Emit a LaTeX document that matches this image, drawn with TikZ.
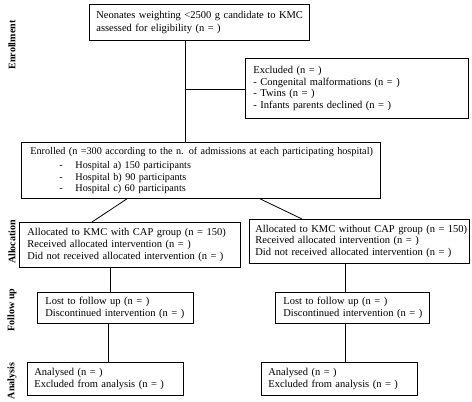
\documentclass[tikz,border=0pt]{standalone}
\usepackage{fontspec}
\setmainfont{Liberation Serif}
\newcommand\oneline[1]{\mbox{#1}}
\begin{document}
\begin{tikzpicture}[x=1pt,y=-1pt,
  box/.style={draw,line width=0.8pt,inner xsep=7pt,inner ysep=0pt,anchor=north west,align=left,
    font=\fontsize{10.5}{11.6}\selectfont},
  side/.style={inner sep=0pt,rotate=90,font=\fontsize{10}{11}\selectfont\bfseries},
  conn/.style={line width=0.8pt}]
\useasboundingbox (0,0) rectangle (472,402);
% boxes with text
\node[box,text width=206pt,minimum height=36pt,font=\fontsize{10.5}{13}\selectfont] (b1) at (89,4)
  {\oneline{Neonates weighting <2500 g candidate to KMC}\\\oneline{assessed for eligibility (n = )}};
\node[box,inner xsep=8pt,text width=207pt,minimum height=60pt] (ex) at (245,58)
  {\oneline{Excluded (n = )}\\\oneline{- Congenital malformations (n = )}\\\oneline{- Twins (n = )}\\\oneline{- Infants parents declined (n = )}};
\node[box,inner xsep=9pt,text width=341pt,minimum height=56pt,font=\fontsize{10.2}{11.4}\selectfont] (en) at (21,142)
  {\oneline{Enrolled (n =300 according to the n. of admissions at each participating hospital)}\\[3pt]
   \hspace*{29pt}\makebox[16pt][l]{-}Hospital a) 150 participants\\
   \hspace*{29pt}\makebox[16pt][l]{-}Hospital b) 90 participants\\
   \hspace*{29pt}\makebox[16pt][l]{-}Hospital c) 60 participants};
\node[box,inner xsep=8pt,text width=205pt,minimum height=45pt] (al) at (19,222)
  {\oneline{Allocated to KMC with CAP group (n = 150)}\\\oneline{Received allocated intervention (n = )}\\\oneline{Did not received allocated intervention (n = )}};
\node[box,inner xsep=6pt,text width=208pt,minimum height=44pt] (ar) at (249,219)
  {\oneline{Allocated to KMC without CAP group (n = 150)}\\\oneline{Received allocated intervention (n = )}\\\oneline{Did not received allocated intervention (n = )}};
\node[box,inner xsep=8pt,text width=140pt,minimum height=31pt,font=\fontsize{10.5}{12.5}\selectfont] (fl) at (37,292)
  {\oneline{Lost to follow up (n = )}\\\oneline{Discontinued intervention (n = )}};
\node[box,inner xsep=8pt,text width=138pt,minimum height=31pt,font=\fontsize{10.5}{12.5}\selectfont] (fr) at (275,292)
  {\oneline{Lost to follow up (n = )}\\\oneline{Discontinued intervention (n = )}};
\node[box,inner xsep=7pt,text width=142pt,minimum height=33pt,font=\fontsize{10.5}{12}\selectfont] (nl) at (27,362)
  {\oneline{Analysed (n = )}\\\oneline{Excluded from analysis (n = )}};
\node[box,inner xsep=7pt,text width=142pt,minimum height=33pt,font=\fontsize{10.5}{12}\selectfont] (nr) at (261,362)
  {\oneline{Analysed (n = )}\\\oneline{Excluded from analysis (n = )}};
% side labels
\node[side] (s1) at (12,45) {Enrollment};
\node[side] (s2) at (12,242) {Allocation};
\node[side] (s3) at (12,310) {Follow up};
\node[side] (s4) at (12,381) {Analysis};
% connectors
\coordinate (j) at (185,89);
\draw[conn] (b1.south -| j) -- (en.north -| j);
\draw[conn] (j) -- (ex.west |- j);
\draw[conn] (en.south -| 127,0) -- (al.north -| 92,0);
\draw[conn] (en.south -| 260,0) -- (ar.north -| 302,0);
\draw[conn] (al.south -| 110,0) -- (fl.north -| 110,0);
\draw[conn] (ar.south -| 345,0) -- (fr.north -| 345,0);
\draw[conn] (fl.south -| 108,0) -- (nl.north -| 108,0);
\draw[conn] (fr.south -| 345,0) -- (nr.north -| 345,0);
\end{tikzpicture}
\end{document}
